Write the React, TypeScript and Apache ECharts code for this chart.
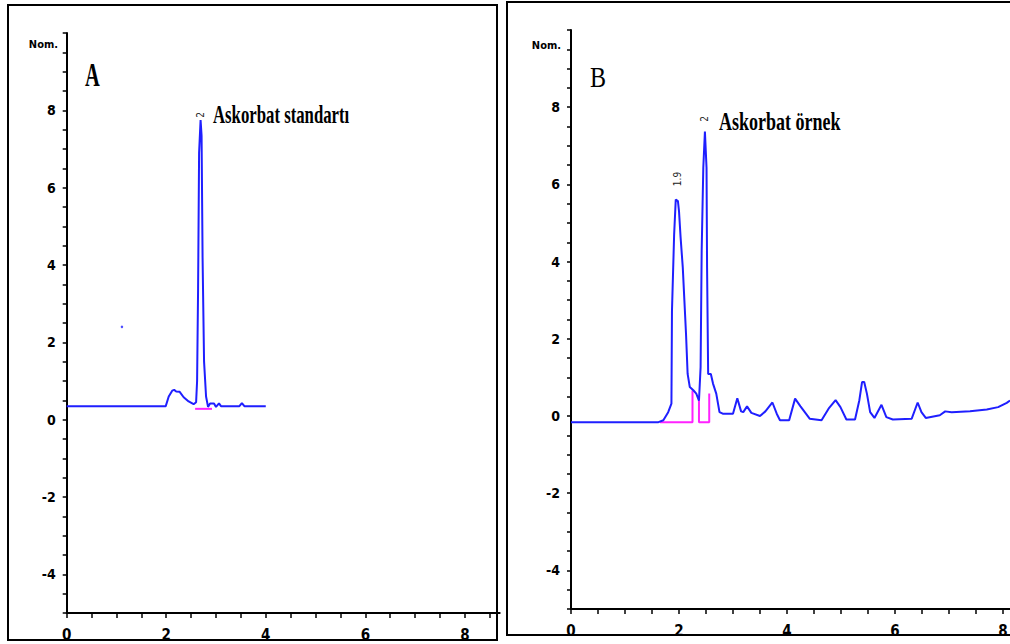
import React, { useEffect, useRef } from "react";
import * as echarts from "echarts";

// Panel A – ascorbate standard
const timeA = [0, 1.99, 2.05, 2.12, 2.16, 2.2, 2.27, 2.35, 2.45, 2.55, 2.6, 2.62, 2.64, 2.66, 2.69, 2.71, 2.73, 2.76, 2.8, 2.84, 2.88, 2.96, 3.0, 3.06, 3.1, 3.47, 3.52, 3.57, 4.0];
const signalA = [0.35, 0.35, 0.6, 0.75, 0.77, 0.73, 0.72, 0.58, 0.47, 0.4, 0.45, 1.0, 3.4, 6.9, 7.75, 7.35, 4.2, 1.5, 0.6, 0.33, 0.42, 0.42, 0.33, 0.42, 0.35, 0.35, 0.43, 0.35, 0.35];
const baseTimeA = [2.58, 2.92];
const baseValA = [0.28, 0.28];
const strayTimeA = [1.11];
const strayValA = [2.4];

// Panel B – ascorbate sample
const timeB = [0, 1.62, 1.71, 1.8, 1.86, 1.87, 1.91, 1.94, 1.98, 2.0, 2.03, 2.07, 2.1, 2.13, 2.16, 2.2, 2.27, 2.32, 2.37, 2.4, 2.42, 2.45, 2.48, 2.51, 2.52, 2.54, 2.59, 2.63, 2.69, 2.75, 2.81, 3.0, 3.08, 3.15, 3.19, 3.26, 3.34, 3.5, 3.6, 3.73, 3.81, 3.87, 4.04, 4.15, 4.25, 4.42, 4.64, 4.77, 4.9, 4.99, 5.1, 5.26, 5.34, 5.39, 5.43, 5.48, 5.54, 5.62, 5.75, 5.84, 5.96, 6.31, 6.42, 6.49, 6.57, 6.83, 6.93, 7.05, 7.39, 7.7, 7.91, 8.07, 8.13];
const signalB = [-0.16, -0.16, -0.11, 0.1, 0.32, 2.73, 4.7, 5.61, 5.57, 5.31, 4.62, 3.85, 2.99, 2.13, 1.09, 0.75, 0.66, 0.58, 0.4, 1.26, 4.28, 6.43, 7.37, 6.43, 3.85, 1.09, 1.09, 0.84, 0.58, 0.1, 0.06, 0.06, 0.46, 0.12, 0.1, 0.25, 0.08, 0.0, 0.12, 0.35, 0.06, -0.11, -0.11, 0.45, 0.25, -0.07, -0.11, 0.19, 0.41, 0.23, -0.09, -0.09, 0.41, 0.88, 0.88, 0.58, 0.1, -0.05, 0.29, -0.03, -0.09, -0.07, 0.35, 0.1, -0.05, 0.02, 0.12, 0.1, 0.12, 0.17, 0.23, 0.34, 0.4];
const base1TimeB = [1.65, 2.25, 2.25];
const base1ValB = [-0.16, -0.16, 0.66];
const base2TimeB = [2.37, 2.37, 2.56, 2.56];
const base2ValB = [0.49, -0.16, -0.16, 0.58];

const yLabelValues = [-4, -2, 0, 2, 4, 6, 8];
const xLabelValues = [0, 2, 4, 6, 8];

const zip = (xs: number[], ys: number[]) => xs.map((x, i) => [x, ys[i]]);

const BLUE = "#1f1fff";
const MAGENTA = "#ff22ff";
const AXIS_FONT = "'Liberation Sans Narrow', 'DejaVu Sans Condensed', 'Liberation Sans', sans-serif";
const SERIF = "'Liberation Serif', 'DejaVu Serif', serif";

function yAxisFor(gridIndex: number) {
  return {
    type: "value",
    gridIndex,
    min: -5,
    max: 10,
    interval: 0.5,
    splitLine: { show: false },
    axisLine: { show: true, lineStyle: { color: "#000", width: 2 } },
    axisTick: { show: true, length: 4, lineStyle: { color: "#000", width: 1.5 } },
    axisLabel: {
      margin: 11,
      color: "#000",
      fontWeight: "bold",
      fontSize: 14,
      fontFamily: AXIS_FONT,
      formatter: (v: number) => {
        const r = Math.round(v * 2) / 2;
        return yLabelValues.includes(r) ? String(r) : "";
      },
    },
  };
}

function xAxisFor(gridIndex: number, max: number) {
  return {
    type: "value",
    gridIndex,
    min: 0,
    max,
    interval: 0.5,
    position: "bottom",
    splitLine: { show: false },
    axisLine: { show: true, onZero: false, lineStyle: { color: "#000", width: 2 } },
    axisTick: { show: true, length: 5, lineStyle: { color: "#000", width: 1.5 } },
    axisLabel: {
      margin: 14,
      color: "#000",
      fontWeight: "bold",
      fontSize: 15,
      fontFamily: AXIS_FONT,
      showMaxLabel: false,
      formatter: (v: number) => {
        const r = Math.round(v * 2) / 2;
        return xLabelValues.includes(r) ? String(r) : "";
      },
    },
  };
}

function lineSeries(data: number[][], idx: number, color: string, width: number) {
  return {
    type: "line",
    xAxisIndex: idx,
    yAxisIndex: idx,
    data,
    showSymbol: false,
    symbol: "none",
    lineStyle: { color, width },
    silent: true,
  };
}

export default function App() {
  const ref = useRef<HTMLDivElement>(null);

  useEffect(() => {
    document.body.style.margin = "0";
    const chart = echarts.init(ref.current!, undefined, { renderer: "svg" });
    chart.setOption({
      animation: false,
      backgroundColor: "#fff",
      grid: [
        { left: 66.7, top: 33, width: 433, height: 580, outerBoundsMode: "none" },
        { left: 571, top: 30, width: 439, height: 579, outerBoundsMode: "none" },
      ],
      xAxis: [xAxisFor(0, 8.7), xAxisFor(1, 8.13)],
      yAxis: [yAxisFor(0), yAxisFor(1)],
      series: [
        lineSeries(zip(baseTimeA, baseValA), 0, MAGENTA, 2),
        lineSeries(zip(timeA, signalA), 0, BLUE, 2),
        {
          type: "scatter",
          xAxisIndex: 0,
          yAxisIndex: 0,
          data: zip(strayTimeA, strayValA),
          symbolSize: 2.5,
          itemStyle: { color: BLUE },
          silent: true,
        },
        lineSeries(zip(base1TimeB, base1ValB), 1, MAGENTA, 2),
        lineSeries(zip(base2TimeB, base2ValB), 1, MAGENTA, 2),
        lineSeries(zip(timeB, signalB), 1, BLUE, 2),
      ],
      graphic: [
        { type: "rect", shape: { x: 8, y: 5, width: 489, height: 635 }, style: { fill: "none", stroke: "#000", lineWidth: 2 }, z: 100 },
        { type: "rect", shape: { x: 507, y: 2, width: 520, height: 633 }, style: { fill: "none", stroke: "#000", lineWidth: 2 }, z: 100 },
        { type: "text", x: 58, y: 44, style: { text: "Nom.", font: "bold 11px " + AXIS_FONT, fill: "#000", textAlign: "right", textVerticalAlign: "middle" } },
        { type: "text", x: 561, y: 45, style: { text: "Nom.", font: "bold 11px " + AXIS_FONT, fill: "#000", textAlign: "right", textVerticalAlign: "middle" } },
        { type: "text", x: 85, y: 75, scaleX: 0.62, style: { text: "A", font: "bold 33px " + SERIF, fill: "#000", textAlign: "left", textVerticalAlign: "middle" } },
        { type: "text", x: 590, y: 77, scaleX: 0.83, style: { text: "B", font: "29px " + SERIF, fill: "#000", textAlign: "left", textVerticalAlign: "middle" } },
        { type: "text", x: 213, y: 115, scaleX: 0.67, style: { text: "Askorbat standartı", font: "bold 25px " + SERIF, fill: "#000", textAlign: "left", textVerticalAlign: "middle" } },
        { type: "text", x: 719, y: 122, scaleX: 0.72, style: { text: "Askorbat örnek", font: "bold 25px " + SERIF, fill: "#000", textAlign: "left", textVerticalAlign: "middle" } },
        { type: "text", x: 200, y: 115, rotation: Math.PI / 2, style: { text: "2", font: "10px " + AXIS_FONT, fill: "#222", textAlign: "center", textVerticalAlign: "middle" } },
        { type: "text", x: 704, y: 119, rotation: Math.PI / 2, style: { text: "2", font: "10px " + AXIS_FONT, fill: "#222", textAlign: "center", textVerticalAlign: "middle" } },
        { type: "text", x: 677, y: 179, rotation: Math.PI / 2, style: { text: "1.9", font: "10px " + AXIS_FONT, fill: "#222", textAlign: "center", textVerticalAlign: "middle" } },
      ],
    });
    return () => chart.dispose();
  }, []);

  return <div ref={ref} style={{ width: 1010, height: 644 }} />;
}
